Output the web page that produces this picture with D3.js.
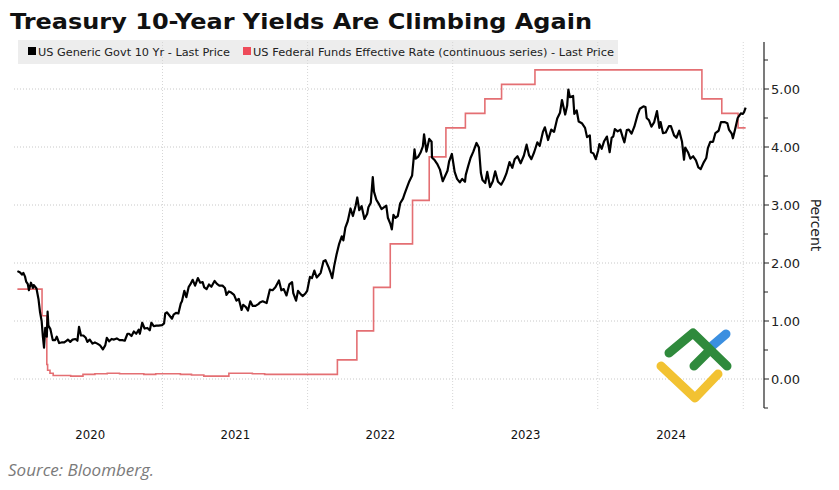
<!DOCTYPE html>
<html>
<head>
<meta charset="utf-8">
<script src="https://cdn.jsdelivr.net/npm/d3@7"></script>
<style>
  body { margin: 0; background: #fff; }
  svg { display: block; }
</style>
</head>
<body>
<div id="chart"></div>
<script>
// declaring variables
const FRAME_WIDTH = 839;
const FRAME_HEIGHT = 490;
const PLOT = {left: 14, right: 764, top: 42, bottom: 408};

// title, legend and labels
const TITLE = 'Treasury 10-Year Yields Are Climbing Again';
const SERIES_NAMES = ['US Generic Govt 10 Yr - Last Price',
                      'US Federal Funds Effective Rate (continuous series) - Last Price'];
const YEAR_LABELS = ['2020', '2021', '2022', '2023', '2024'];
const Y_TICKS = [0, 1, 2, 3, 4, 5];
const Y_MINOR_TICKS = [-0.5, 0.5, 1.5, 2.5, 3.5, 4.5, 5.5];
const SOURCE = 'Source: Bloomberg.';

// US 10 year yield, [month-day, percent]
const YIELD_2020 = [['01-02',1.86],['01-08',1.84],['01-14',1.80],['01-17',1.83],['01-21',1.77],['01-24',1.68],
  ['01-28',1.64],['01-31',1.53],['02-05',1.66],['02-10',1.57],['02-12',1.62],['02-19',1.56],['02-24',1.38],
  ['02-28',1.15],['03-03',1.00],['03-06',0.74],['03-09',0.54],['03-12',0.88],['03-16',0.73],['03-18',1.16],
  ['03-20',0.92],['03-25',0.86],['03-31',0.67],['04-06',0.67],['04-10',0.73],['04-16',0.62],['04-22',0.63],
  ['04-29',0.63],['05-05',0.66],['05-08',0.68],['05-14',0.64],['05-20',0.68],['05-27',0.69],['06-01',0.66],
  ['06-05',0.90],['06-10',0.75],['06-16',0.75],['06-22',0.71],['06-26',0.64],['07-02',0.68],['07-09',0.61],
  ['07-15',0.63],['07-21',0.61],['07-28',0.58],['08-04',0.51],['08-10',0.58],['08-14',0.71],['08-20',0.65],
  ['08-26',0.69],['09-01',0.68],['09-08',0.70],['09-15',0.67],['09-22',0.67],['09-28',0.66],['10-05',0.78],
  ['10-09',0.78],['10-15',0.74],['10-21',0.82],['10-27',0.78],['11-02',0.85],['11-05',0.78],['11-11',0.97],
  ['11-17',0.87],['11-24',0.88],['11-30',0.84],['12-04',0.97],['12-10',0.91],['12-16',0.92],['12-22',0.92],
  ['12-31',0.93]];
const YIELD_2021 = [['01-05',0.96],['01-08',1.13],['01-12',1.15],['01-19',1.09],['01-25',1.04],['01-29',1.11],
  ['02-04',1.14],['02-10',1.13],['02-16',1.30],['02-19',1.34],['02-25',1.52],['03-02',1.41],['03-08',1.59],
  ['03-12',1.63],['03-18',1.71],['03-24',1.61],['03-31',1.74],['04-06',1.66],['04-12',1.67],['04-16',1.58],
  ['04-22',1.55],['04-28',1.63],['05-04',1.59],['05-12',1.69],['05-18',1.64],['05-24',1.61],['06-01',1.61],
  ['06-07',1.57],['06-11',1.45],['06-17',1.51],['06-23',1.49],['06-30',1.45],['07-06',1.35],['07-12',1.38],
  ['07-19',1.19],['07-23',1.28],['07-30',1.24],['08-04',1.18],['08-10',1.34],['08-16',1.26],['08-23',1.26],
  ['08-30',1.29],['09-03',1.32],['09-10',1.34],['09-20',1.31],['09-28',1.54],['10-05',1.53],['10-12',1.58],
  ['10-21',1.70],['10-27',1.53],['11-02',1.55],['11-09',1.44],['11-16',1.63],['11-23',1.67],['11-26',1.48],
  ['12-03',1.35],['12-08',1.52],['12-15',1.46],['12-20',1.43],['12-27',1.48],['12-31',1.52]];
const YIELD_2022 = [['01-04',1.66],['01-07',1.76],['01-12',1.74],['01-18',1.87],['01-24',1.75],['01-28',1.78],
  ['02-03',1.83],['02-10',2.03],['02-15',2.05],['02-22',1.94],['02-28',1.83],['03-04',1.74],['03-09',1.95],
  ['03-15',2.15],['03-21',2.32],['03-28',2.46],['04-01',2.39],['04-06',2.61],['04-12',2.72],['04-19',2.94],
  ['04-25',2.81],['05-02',2.99],['05-06',3.13],['05-11',2.91],['05-17',2.98],['05-24',2.76],['05-31',2.85],
  ['06-03',2.96],['06-09',3.04],['06-14',3.48],['06-17',3.23],['06-23',3.09],['06-30',3.01],['07-06',2.93],
  ['07-12',2.96],['07-18',2.99],['07-22',2.78],['07-28',2.68],['08-01',2.58],['08-05',2.83],['08-10',2.78],
  ['08-16',2.81],['08-22',3.03],['08-29',3.11],['09-02',3.19],['09-09',3.32],['09-14',3.41],['09-21',3.51],
  ['09-27',3.96],['09-30',3.80],['10-06',3.83],['10-12',3.90],['10-18',4.01],['10-21',4.22],['10-27',3.92],
  ['11-03',4.14],['11-09',4.09],['11-10',3.82],['11-17',3.77],['11-23',3.71],['11-30',3.61],['12-07',3.41],
  ['12-13',3.50],['12-19',3.59],['12-23',3.75],['12-30',3.88]];
const YIELD_2023 = [['01-06',3.57],['01-12',3.45],['01-19',3.39],['01-25',3.45],['02-01',3.40],['02-03',3.52],
  ['02-09',3.67],['02-15',3.81],['02-22',3.92],['03-02',4.07],['03-08',3.99],['03-13',3.55],['03-17',3.43],
  ['03-24',3.38],['03-29',3.57],['04-05',3.31],['04-12',3.41],['04-18',3.58],['04-25',3.40],['05-03',3.35],
  ['05-10',3.44],['05-16',3.54],['05-24',3.74],['05-31',3.64],['06-06',3.79],['06-13',3.84],['06-21',3.72],
  ['06-29',3.85],['07-06',4.04],['07-12',3.86],['07-18',3.79],['07-25',3.91],['08-02',4.08],['08-08',4.02],
  ['08-16',4.26],['08-21',4.34],['08-29',4.12],['09-06',4.30],['09-13',4.26],['09-21',4.49],['09-28',4.59],
  ['10-03',4.81],['10-11',4.56],['10-16',4.71],['10-19',4.99],['10-23',4.86],['10-31',4.88],['11-03',4.57],
  ['11-09',4.63],['11-14',4.44],['11-22',4.41],['11-30',4.33],['12-05',4.17],['12-12',4.20],['12-15',3.91],
  ['12-21',3.89],['12-27',3.79]];
const YIELD_2024 = [['01-02',3.94],['01-05',4.05],['01-11',3.97],['01-17',4.10],['01-24',4.18],['01-31',3.91],
  ['02-05',4.16],['02-09',4.18],['02-13',4.31],['02-20',4.27],['02-27',4.30],['03-05',4.14],['03-08',4.08],
  ['03-14',4.29],['03-19',4.30],['03-26',4.23],['04-02',4.35],['04-10',4.55],['04-16',4.66],['04-25',4.70],
  ['04-30',4.69],['05-03',4.50],['05-09',4.46],['05-15',4.35],['05-22',4.43],['05-29',4.62],['06-04',4.33],
  ['06-07',4.43],['06-13',4.24],['06-20',4.25],['06-28',4.36],['07-03',4.36],['07-11',4.20],['07-17',4.16],
  ['07-24',4.28],['07-31',4.09],['08-05',3.78],['08-08',3.99],['08-15',3.91],['08-21',3.80],['08-28',3.84],
  ['09-04',3.77],['09-10',3.65],['09-16',3.62],['09-24',3.74],['09-30',3.81],['10-04',3.98],['10-10',4.09],
  ['10-17',4.09],['10-23',4.24],['10-31',4.28],['11-06',4.43],['11-12',4.43],['11-15',4.43],['11-22',4.41],
  ['11-26',4.30],['12-03',4.23],['12-06',4.15],['12-12',4.32],['12-18',4.50],['12-26',4.58],['12-31',4.57]];
const YIELD_2025 = [['01-03',4.60],['01-07',4.68]];

// fed funds effective rate, [month-day, percent], held until the next entry
const FED_2020 = [['01-02',1.55],['03-04',1.09],['03-16',0.25],['03-18',0.15],['03-24',0.10],['04-01',0.06],
  ['05-15',0.05],['06-15',0.08],['07-15',0.09],['08-15',0.10],['09-15',0.09],['11-15',0.08],['12-15',0.09]];
const FED_2021 = [['02-15',0.08],['03-15',0.07],['04-15',0.05],['06-17',0.10],['08-15',0.09],['09-15',0.08]];
const FED_2022 = [['03-17',0.33],['05-05',0.83],['06-16',1.58],['07-28',2.33],['09-22',3.08],['11-03',3.83],
  ['12-15',4.33]];
const FED_2023 = [['02-02',4.58],['03-23',4.83],['05-04',5.08],['07-27',5.33]];
const FED_2024 = [['09-19',4.83],['11-08',4.58],['12-19',4.33]];
const FED_2025 = [['01-07',4.33]];

// build [date, value] rows from the yearly arrays
const parseDate = d3.timeParse('%Y-%m-%d');
function toRows(year, arr) {
    return arr.map((d) => ({date: parseDate(year + '-' + d[0]), value: d[1]}));
}
const yieldData = [].concat(toRows(2020, YIELD_2020), toRows(2021, YIELD_2021), toRows(2022, YIELD_2022),
                            toRows(2023, YIELD_2023), toRows(2024, YIELD_2024), toRows(2025, YIELD_2025));
const fedData = [].concat(toRows(2020, FED_2020), toRows(2021, FED_2021), toRows(2022, FED_2022),
                          toRows(2023, FED_2023), toRows(2024, FED_2024), toRows(2025, FED_2025));

const FRAME = d3.select('#chart')
    .append('svg')
        .attr('width', FRAME_WIDTH)
        .attr('height', FRAME_HEIGHT);

// scales
const X_SCALE = d3.scaleTime()
    .domain([new Date(2020, 0, 1), new Date(2025, 0, 1)])
    .range([17, 743.25]);

const Y_SCALE = d3.scaleLinear()
    .domain([0, 5])
    .range([379, 89]);

// title
FRAME.append('text')
    .attr('x', 10)
    .attr('y', 29)
    .attr('font-family', 'DejaVu Sans')
    .attr('font-weight', 'bold')
    .attr('font-size', '21px')
    .attr('fill', '#111')
    .attr('textLength', 582)
    .attr('lengthAdjust', 'spacingAndGlyphs')
    .text(TITLE);

// legend box
FRAME.append('rect')
    .attr('x', 18).attr('y', 40)
    .attr('width', 600).attr('height', 24)
    .attr('fill', '#ededed');

// vertical gridlines at year boundaries
const yearStarts = YEAR_LABELS.map((y) => new Date(+y + 1, 0, 1));
FRAME.append('g')
    .selectAll('line')
    .data(yearStarts)
    .enter()
    .append('line')
        .attr('x1', (d) => X_SCALE(d))
        .attr('x2', (d) => X_SCALE(d))
        .attr('y1', PLOT.top)
        .attr('y2', PLOT.bottom + 2)
        .attr('stroke', '#d6d6d6')
        .attr('stroke-dasharray', '1,2');

// horizontal gridlines
FRAME.append('g')
    .selectAll('line')
    .data(Y_TICKS)
    .enter()
    .append('line')
        .attr('x1', PLOT.left)
        .attr('x2', PLOT.right)
        .attr('y1', (d) => Y_SCALE(d))
        .attr('y2', (d) => Y_SCALE(d))
        .attr('stroke', '#c8c8c8')
        .attr('stroke-dasharray', '1,2');

// legend entries
const legendItems = [
    {name: SERIES_NAMES[0], color: '#000000', x: 28, width: 192},
    {name: SERIES_NAMES[1], color: '#ee4b5a', x: 243, width: 361}
];
legendItems.forEach((d) => {
    FRAME.append('rect')
        .attr('x', d.x).attr('y', 47)
        .attr('width', 8).attr('height', 8)
        .attr('fill', d.color);
    FRAME.append('text')
        .attr('x', d.x + 10)
        .attr('y', 56)
        .attr('font-family', 'DejaVu Sans')
        .attr('font-size', '11px')
        .attr('fill', '#222')
        .attr('textLength', d.width)
        .attr('lengthAdjust', 'spacingAndGlyphs')
        .text(d.name);
});

// fed funds line
const fedLine = d3.line()
    .x((d) => X_SCALE(d.date))
    .y((d) => Y_SCALE(d.value))
    .curve(d3.curveStepAfter);

FRAME.append('path')
    .datum(fedData)
    .attr('d', fedLine)
    .attr('fill', 'none')
    .attr('stroke', '#e46f73')
    .attr('stroke-width', 1.6);

// 10 year yield line
const yieldLine = d3.line()
    .x((d) => X_SCALE(d.date))
    .y((d) => Y_SCALE(d.value));

FRAME.append('path')
    .datum(yieldData)
    .attr('d', yieldLine)
    .attr('fill', 'none')
    .attr('stroke', '#000')
    .attr('stroke-width', 2.2)
    .attr('stroke-linejoin', 'round');

// right y axis
const yAxis = FRAME.append('g')
    .attr('transform', 'translate(' + PLOT.right + ',0)');
yAxis.append('line')
    .attr('x1', 0).attr('x2', 0)
    .attr('y1', PLOT.top).attr('y2', PLOT.bottom)
    .attr('stroke', '#222')
    .attr('stroke-width', 1.2);
yAxis.selectAll('.minor')
    .data(Y_MINOR_TICKS)
    .enter()
    .append('line')
        .attr('x1', 0).attr('x2', 4)
        .attr('y1', (d) => Y_SCALE(d))
        .attr('y2', (d) => Y_SCALE(d))
        .attr('stroke', '#222');
yAxis.selectAll('.major')
    .data(Y_TICKS)
    .enter()
    .append('line')
        .attr('x1', 0).attr('x2', 5)
        .attr('y1', (d) => Y_SCALE(d))
        .attr('y2', (d) => Y_SCALE(d))
        .attr('stroke', '#222');
yAxis.selectAll('text')
    .data(Y_TICKS)
    .enter()
    .append('text')
        .attr('x', 7)
        .attr('y', (d) => Y_SCALE(d) + 5)
        .attr('font-family', 'DejaVu Sans')
        .attr('font-size', '13px')
        .attr('fill', '#222')
        .text((d) => d3.format('.2f')(d));

// axis title
FRAME.append('text')
    .attr('transform', 'translate(811,225) rotate(90)')
    .attr('text-anchor', 'middle')
    .attr('font-family', 'DejaVu Sans')
    .attr('font-size', '14px')
    .attr('fill', '#222')
    .text('Percent');

// x axis year labels, centred in each year
const yearMids = YEAR_LABELS.map((y) => new Date(+y, 6, 2));
FRAME.append('g')
    .attr('transform', 'translate(0,' + 436 + ')')
    .call(d3.axisBottom(X_SCALE).tickValues(yearMids).tickSize(0).tickFormat(d3.timeFormat('%Y')))
    .call((g) => g.select('.domain').remove())
    .call((g) => g.selectAll('text')
        .attr('font-family', 'DejaVu Sans Condensed, DejaVu Sans')
        .attr('font-size', '13px')
        .attr('fill', '#111')
        .attr('dy', 0));

// source
FRAME.append('text')
    .attr('x', 8)
    .attr('y', 476)
    .attr('font-family', 'Open Sans')
    .attr('font-style', 'italic')
    .attr('font-size', '17px')
    .attr('fill', '#7a7a7a')
    .text(SOURCE);

// watermark logo
const logo = FRAME.append('g')
    .attr('fill', 'none')
    .attr('stroke-linecap', 'round')
    .attr('stroke-linejoin', 'round')
    .attr('stroke-width', 9);
logo.append('path')
    .attr('d', 'M712,346 L726,334')
    .attr('stroke', '#3b8fe0');
logo.append('path')
    .attr('d', 'M661,366 L695,398 L718,374')
    .attr('stroke', '#f2c232');
logo.append('path')
    .attr('d', 'M669,353 L693,333 L727,366 M694,366 L710,350')
    .attr('stroke', '#2f8a3c');
</script>
</body>
</html>
